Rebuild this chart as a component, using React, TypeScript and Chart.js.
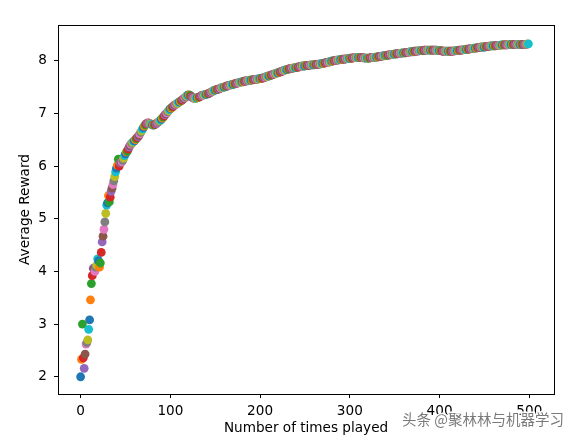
import { useEffect, useRef } from 'react';
import { Chart, registerables } from 'chart.js';

Chart.register(...registerables);

// Average reward after each play (index = number of times played)
const averageReward: number[] = [
  2.00, 2.33, 3.00, 2.36, 2.16, 2.43, 2.62, 2.65, 2.70, 2.90,
  3.08, 3.46, 3.77, 3.92, 4.06, 4.04, 4.00, 4.08, 4.12, 4.24,
  4.20, 4.08, 4.16, 4.36, 4.56, 4.67, 4.80, 4.94, 5.10, 5.26,
  5.30, 5.44, 5.32, 5.41, 5.52, 5.58, 5.65, 5.72, 5.80, 5.89,
  5.96, 6.02, 6.13, 6.00, 6.06, 6.07, 6.08, 6.11, 6.15, 6.20,
  6.23, 6.27, 6.28, 6.32, 6.36, 6.39, 6.41, 6.43, 6.45, 6.47,
  6.48, 6.50, 6.52, 6.54, 6.56, 6.58, 6.61, 6.64, 6.67, 6.70,
  6.73, 6.76, 6.78, 6.80, 6.81, 6.82, 6.82, 6.81, 6.80, 6.79,
  6.78, 6.78, 6.78, 6.79, 6.80, 6.82, 6.83, 6.84, 6.86, 6.87,
  6.89, 6.91, 6.93, 6.95, 6.97, 6.99, 7.01, 7.03, 7.05, 7.07,
  7.09, 7.10, 7.12, 7.13, 7.15, 7.16, 7.17, 7.18, 7.19, 7.21,
  7.22, 7.23, 7.24, 7.25, 7.27, 7.28, 7.30, 7.31, 7.33, 7.34,
  7.35, 7.35, 7.34, 7.32, 7.31, 7.30, 7.29, 7.28, 7.28, 7.29,
  7.30, 7.30, 7.31, 7.32, 7.33, 7.34, 7.34, 7.35, 7.35, 7.36,
  7.36, 7.37, 7.37, 7.38, 7.39, 7.40, 7.41, 7.42, 7.43, 7.44,
  7.44, 7.45, 7.45, 7.46, 7.46, 7.47, 7.48, 7.49, 7.49, 7.50,
  7.50, 7.51, 7.51, 7.52, 7.52, 7.53, 7.53, 7.54, 7.54, 7.55,
  7.55, 7.56, 7.56, 7.57, 7.57, 7.58, 7.58, 7.59, 7.59, 7.60,
  7.60, 7.60, 7.61, 7.61, 7.61, 7.62, 7.62, 7.62, 7.63, 7.63,
  7.63, 7.63, 7.64, 7.64, 7.64, 7.64, 7.65, 7.65, 7.65, 7.66,
  7.66, 7.66, 7.67, 7.67, 7.68, 7.68, 7.69, 7.70, 7.70, 7.71,
  7.71, 7.72, 7.72, 7.73, 7.74, 7.74, 7.75, 7.76, 7.76, 7.77,
  7.77, 7.78, 7.79, 7.79, 7.80, 7.80, 7.81, 7.82, 7.82, 7.83,
  7.83, 7.84, 7.84, 7.85, 7.85, 7.85, 7.86, 7.86, 7.87, 7.87,
  7.87, 7.88, 7.88, 7.88, 7.89, 7.89, 7.89, 7.90, 7.90, 7.90,
  7.90, 7.91, 7.91, 7.91, 7.91, 7.91, 7.92, 7.92, 7.92, 7.92,
  7.92, 7.93, 7.93, 7.93, 7.93, 7.93, 7.94, 7.94, 7.94, 7.95,
  7.95, 7.95, 7.96, 7.96, 7.97, 7.97, 7.97, 7.98, 7.98, 7.99,
  7.99, 7.99, 8.00, 8.00, 8.00, 8.01, 8.01, 8.01, 8.02, 8.02,
  8.02, 8.02, 8.03, 8.03, 8.03, 8.03, 8.04, 8.04, 8.04, 8.04,
  8.05, 8.05, 8.05, 8.05, 8.06, 8.06, 8.06, 8.06, 8.06, 8.06,
  8.06, 8.06, 8.06, 8.06, 8.06, 8.06, 8.05, 8.05, 8.05, 8.05,
  8.05, 8.05, 8.05, 8.06, 8.06, 8.06, 8.06, 8.06, 8.07, 8.07,
  8.07, 8.07, 8.08, 8.08, 8.08, 8.08, 8.09, 8.09, 8.09, 8.10,
  8.10, 8.10, 8.10, 8.11, 8.11, 8.11, 8.12, 8.12, 8.12, 8.12,
  8.13, 8.13, 8.13, 8.13, 8.14, 8.14, 8.14, 8.14, 8.15, 8.15,
  8.15, 8.15, 8.15, 8.16, 8.16, 8.16, 8.16, 8.17, 8.17, 8.17,
  8.17, 8.17, 8.18, 8.18, 8.18, 8.18, 8.18, 8.19, 8.19, 8.19,
  8.19, 8.19, 8.19, 8.20, 8.20, 8.20, 8.20, 8.20, 8.20, 8.20,
  8.20, 8.20, 8.20, 8.20, 8.20, 8.20, 8.20, 8.20, 8.19, 8.19,
  8.19, 8.19, 8.19, 8.18, 8.18, 8.18, 8.18, 8.18, 8.18, 8.18,
  8.18, 8.18, 8.18, 8.18, 8.18, 8.18, 8.18, 8.19, 8.19, 8.19,
  8.19, 8.19, 8.20, 8.20, 8.20, 8.20, 8.21, 8.21, 8.21, 8.21,
  8.22, 8.22, 8.22, 8.22, 8.23, 8.23, 8.23, 8.23, 8.24, 8.24,
  8.24, 8.24, 8.25, 8.25, 8.25, 8.25, 8.26, 8.26, 8.26, 8.26,
  8.26, 8.27, 8.27, 8.27, 8.27, 8.27, 8.28, 8.28, 8.28, 8.28,
  8.28, 8.28, 8.28, 8.29, 8.29, 8.29, 8.29, 8.29, 8.29, 8.30,
  8.30, 8.30, 8.30, 8.30, 8.30, 8.30, 8.30, 8.31, 8.31, 8.31,
  8.31, 8.31, 8.31, 8.31, 8.31, 8.31, 8.31, 8.31, 8.31, 8.31,
  8.31, 8.31, 8.31, 8.31, 8.31, 8.31, 8.31, 8.31, 8.32, 8.32,
];

const xTickValues = [0, 100, 200, 300, 400, 500];
const yTickValues = [2, 3, 4, 5, 6, 7, 8];
const pointColors = [
  '#1f77b4', '#ff7f0e', '#2ca02c', '#d62728', '#9467bd',
  '#8c564b', '#e377c2', '#7f7f7f', '#bcbd22', '#17becf',
];
const xTitle = 'Number of times played';
const yTitle = 'Average Reward';
const watermark = '头条 @聚林林与机器学习';

const FONT = "'DejaVu Sans', sans-serif";
const FONT_SIZE = 13.6;

export default function App() {
  const canvasRef = useRef<HTMLCanvasElement | null>(null);

  useEffect(() => {
    const canvas = canvasRef.current;
    if (!canvas) return;

    const framePlugin = {
      id: 'frame',
      afterDatasetsDraw(chart: any) {
        const { ctx, chartArea: a } = chart;
        ctx.save();
        ctx.strokeStyle = '#000';
        ctx.lineWidth = 1;
        ctx.strokeRect(a.left + 0.5, a.top + 0.5, a.right - a.left, a.bottom - a.top);
        ctx.restore();
      },
      afterDraw(chart: any) {
        const { ctx } = chart;
        ctx.save();
        ctx.font = "14.5px 'Noto Sans CJK SC', sans-serif";
        ctx.textBaseline = 'middle';
        ctx.textAlign = 'left';
        ctx.lineJoin = 'round';
        ctx.strokeStyle = 'rgba(255,255,255,0.95)';
        ctx.lineWidth = 3;
        ctx.strokeText(watermark, 402, 419);
        ctx.fillStyle = '#7a7a7a';
        ctx.fillText(watermark, 402, 419);
        ctx.restore();
      },
    };

    const chart = new Chart(canvas, {
      type: 'scatter',
      data: {
        datasets: [
          {
            data: averageReward.map((y, i) => ({ x: i, y })),
            backgroundColor: averageReward.map((_, i) => pointColors[i % pointColors.length]),
            pointRadius: 4.4,
            pointBorderWidth: 0,
            pointHoverRadius: 4.4,
          },
        ],
      },
      options: {
        responsive: false,
        devicePixelRatio: 1,
        animation: false,
        events: [],
        layout: { padding: { left: 0, top: 25, right: 25, bottom: 0 } },
        plugins: { legend: { display: false }, tooltip: { enabled: false } },
        scales: {
          x: {
            type: 'linear',
            min: -25.2,
            max: 527.5,
            afterFit: (s: any) => { s.height = 46; },
            afterBuildTicks: (s: any) => { s.ticks = xTickValues.map((v) => ({ value: v })); },
            border: { display: false },
            grid: { drawOnChartArea: false, drawTicks: true, tickLength: 4, color: '#000', tickColor: '#000', lineWidth: 1 },
            ticks: { color: '#000', padding: 5.5, font: { family: FONT, size: FONT_SIZE }, maxRotation: 0, autoSkip: false },
            title: { display: true, text: xTitle, color: '#000', font: { family: FONT, size: FONT_SIZE }, padding: { top: 0, bottom: 3.5 } },
          },
          y: {
            type: 'linear',
            min: 1.673,
            max: 8.678,
            afterFit: (s: any) => { s.width = 58; },
            afterBuildTicks: (s: any) => { s.ticks = yTickValues.map((v) => ({ value: v })); },
            border: { display: false },
            grid: { drawOnChartArea: false, drawTicks: true, tickLength: 4, color: '#000', tickColor: '#000', lineWidth: 1 },
            ticks: { color: '#000', padding: 7, font: { family: FONT, size: FONT_SIZE }, autoSkip: false },
            title: { display: true, text: yTitle, color: '#000', font: { family: FONT, size: FONT_SIZE }, padding: { top: 17.5, bottom: 0 } },
          },
        },
      },
      plugins: [framePlugin],
    } as any);

    return () => chart.destroy();
  }, []);

  return (
    <div style={{ position: 'fixed', left: 0, top: 0, width: 579, height: 440, background: '#fff' }}>
      <canvas ref={canvasRef} width={579} height={440} style={{ display: 'block' }} />
    </div>
  );
}
